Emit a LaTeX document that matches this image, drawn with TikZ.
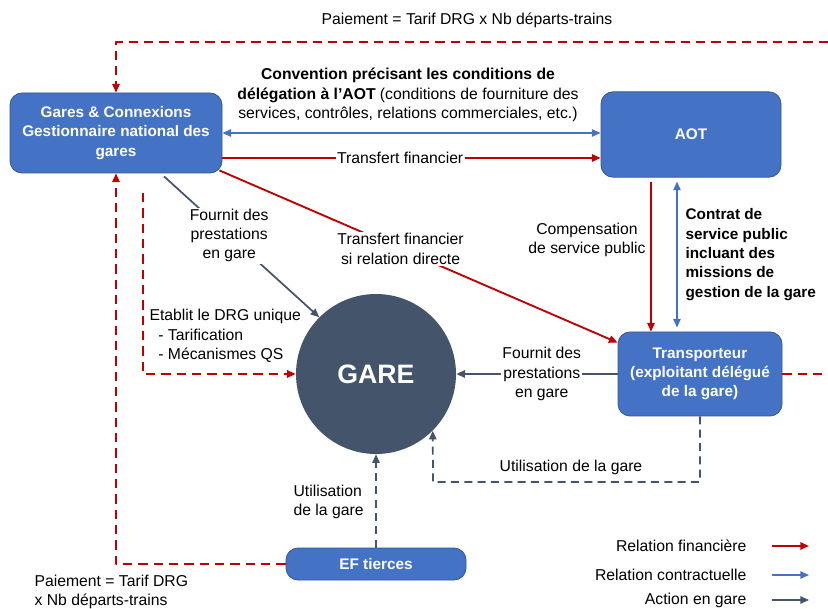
\documentclass[tikz,border=0pt]{standalone}
\usepackage{fontspec}
\setmainfont{Liberation Sans}
\usetikzlibrary{arrows.meta,positioning}
\definecolor{rouge}{HTML}{C00000}
\definecolor{bleu}{HTML}{4472C4}
\definecolor{gris}{HTML}{44546A}
\tikzset{
  boite/.style={draw=bleu!75!black, line width=0.6pt, fill=bleu, rounded corners=9pt,
    text=white, font=\fontsize{11.5}{14.5}\selectfont\bfseries, align=center, inner sep=2pt},
  lbl/.style={inner sep=1pt, align=center},
  finance/.style={draw=rouge, line width=1.4pt},
  contrat/.style={draw=bleu, line width=1.1pt},
  action/.style={draw=gris, line width=1.3pt},
  tirets/.style={dash pattern=on 7pt off 4.5pt},
  pointilles/.style={dash pattern=on 6pt off 4pt}
}
\begin{document}
\begin{tikzpicture}[x=0.75pt, y=-0.75pt, font=\fontsize{11.8}{14.5}\selectfont,
  line join=round, >={Triangle[length=6.5pt,width=5.5pt]}]
\useasboundingbox (0,0) rectangle (828,609);
% acteurs
\node[boite, minimum width=159pt, minimum height=60pt] (gc) at (116,133)
  {Gares \& Connexions\\Gestionnaire national des\\gares};
\node[boite, minimum width=135pt, minimum height=64pt] (aot) at (691,134.5) {AOT};
\node[boite, minimum width=123pt, minimum height=63pt] (transp) at (700,374)
  {Transporteur\\(exploitant délégué\\de la gare)};
\node[boite, minimum width=135pt, minimum height=24pt] (ef) at (376,564) {EF tierces};
\node[circle, fill=gris, minimum size=120pt, inner sep=0pt, text=white,
  font=\fontsize{20}{24}\selectfont\bfseries] (gare) at (376,374) {GARE};
% extremites libres
\coordinate (hautdroit) at (828,42);
\coordinate (basdroit) at (828,374);
\coordinate (drg) at (143,193);
\coordinate (coinbas) at (433,482);
% paiements DRG
\draw[finance, tirets, ->] (hautdroit) -| (gc.north);
\node[lbl] (paie1) at (467,20) {Paiement = Tarif DRG x Nb départs-trains};
\draw[finance, tirets, ->] (ef.west) -| (gc.south);
\node[lbl, anchor=north west, align=left] (paie2) at (33,573)
  {Paiement = Tarif DRG\\x Nb départs-trains};
\draw[finance, tirets] (transp.east) -- (basdroit);
% convention G&C - AOT
\draw[contrat, <->] (gc.east) -- (gc.east -| aot.west);
\node[lbl] (conv) at (408,95)
  {\textbf{Convention précisant les conditions de}\\
   \textbf{délégation à l’AOT} (conditions de fourniture des\\
   services, contrôles, relations commerciales, etc.)};
% transferts financiers
\draw[finance, ->] (gc.east |- 0,158) -- node[lbl, fill=white, pos=0.47] (tf1) {Transfert financier}
  (aot.west |- 0,158);
\draw[finance, ->] ([shift={(-3,-3)}]gc.south east) -- node[lbl, fill=white, pos=0.455] (tf2)
  {Transfert financier\\si relation directe} ([shift={(0,11)}]transp.north west);
% AOT - transporteur
\draw[finance, ->, shorten <=3pt] (aot.south -| 651,0) -- (transp.north -| 651,0);
\node[lbl] (comp) at (587,240) {Compensation\\de service public};
\draw[contrat, <->, shorten <=3pt, shorten >=3pt] (transp.north -| 677,0) -- (aot.south -| 677,0);
\node[lbl, anchor=north west, align=left, font=\fontsize{11.5}{14.5}\selectfont\bfseries] (csp)
  at (684,207) {Contrat de\\service public\\incluant des\\missions de\\gestion de la gare};
% actions en gare
\draw[action, ->] ([shift={(48,3)}]gc.south) -- node[lbl, fill=white, pos=0.42] (fp1)
  {Fournit des\\prestations\\en gare} (gare.135);
\draw[finance, tirets, ->] (drg) |- (gare.west);
\node[lbl, anchor=north west, align=left] (etab) at (148,308)
  {Etablit le DRG unique\\\ \ - Tarification\\\ \ - Mécanismes QS};
\draw[action, ->] (transp.west) -- node[lbl, fill=white, pos=0.47] (fp2)
  {Fournit des\\prestations\\en gare} (gare.east);
\draw[action, pointilles, ->] (transp.south) |- (coinbas) -- (gare.-45);
\node[lbl] (util1) at (571,467) {Utilisation de la gare};
\draw[action, pointilles, ->] (ef.north) -- (gare.south);
\node[lbl, anchor=west, align=left] (util2) at (292,502) {Utilisation\\de la gare};
% legende
\foreach \i/\yy/\st/\txt in {1/546/finance/Relation financière,
    2/575/contrat/Relation contractuelle, 3/600/action/Action en gare}{
  \node[lbl, anchor=east] (leg\i) at (748,\yy) {\txt};
  \coordinate (lga\i) at (772,\yy);
  \coordinate (lgb\i) at (809,\yy);
  \draw[\st, ->] (lga\i) -- (lgb\i);
}
\end{tikzpicture}
\end{document}
